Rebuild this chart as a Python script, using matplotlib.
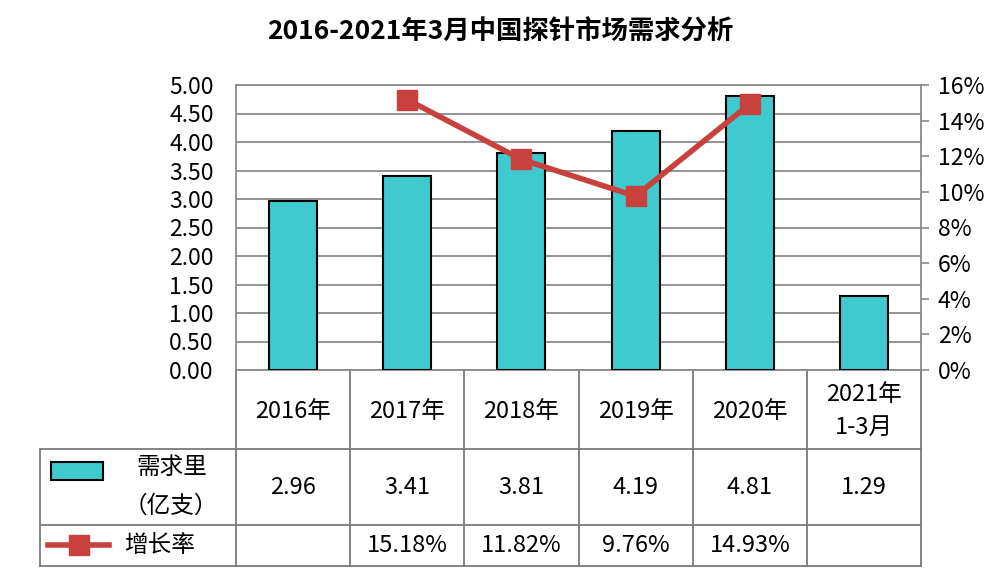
import numpy as np
import matplotlib.pyplot as plt
from matplotlib.ticker import PercentFormatter

plt.rcParams['font.family'] = ['Noto Sans CJK SC', 'DejaVu Sans']

# data
years = ['2016年', '2017年', '2018年', '2019年', '2020年', '2021年\n1-3月']
demand = [2.96, 3.41, 3.81, 4.19, 4.81, 1.29]
growth = [np.nan, 15.18, 11.82, 9.76, 14.93, np.nan]
demand_txt = ['2.96', '3.41', '3.81', '4.19', '4.81', '1.29']
growth_txt = ['', '15.18%', '11.82%', '9.76%', '14.93%', '']

bar_color = '#3ECACE'
line_color = '#C9413C'
grid_color = '#8a8a8a'

fig = plt.figure(figsize=(10, 5.86), dpi=100)

# overlay in pixel coords for the data table
bg = fig.add_axes([0, 0, 1, 1])
bg.set_xlim(0, 1000)
bg.set_ylim(586, 0)
bg.axis('off')

# main chart
L, R, T, B = 236, 921, 85, 370
ax = fig.add_axes([L / 1000, 1 - B / 586, (R - L) / 1000, (B - T) / 586])
x = np.arange(len(years))
ax.bar(x, demand, width=0.42, color=bar_color, edgecolor='black', linewidth=1.5, zorder=3)
ax.set_xlim(-0.5, len(years) - 0.5)
ax.set_ylim(0, 5)
ax.set_yticks(np.arange(0, 5.01, 0.5))
ax.yaxis.set_major_formatter(lambda v, p: f'{v:.2f}')
ax.set_xticks([])
ax.grid(axis='y', color=grid_color, linewidth=1.3, zorder=0)
ax.tick_params(axis='y', length=0, pad=16, labelsize=16.5)
for s in ax.spines.values():
    s.set_color(grid_color)
    s.set_linewidth(1.3)

ax2 = ax.twinx()
ax2.plot(x, np.array(growth) / 100, color=line_color, linewidth=4, marker='s',
         markersize=15, markerfacecolor=line_color, markeredgecolor=line_color, zorder=4)
ax2.set_ylim(0, 0.16)
ax2.set_yticks(np.arange(0, 0.161, 0.02))
ax2.yaxis.set_major_formatter(PercentFormatter(1.0, decimals=0))
ax2.tick_params(axis='y', length=6, width=1.2, color=grid_color, pad=6, labelsize=16.5)
for s in ax2.spines.values():
    s.set_visible(False)

fig.text(0.5, 1 - 32 / 586, '2016-2021年3月中国探针市场需求分析', ha='center', va='center',
         fontsize=19, fontweight='bold')

# table grid
cw = (R - L) / len(years)
rows = [B, 449, 525, 566]
lc = '#7a7a7a'
lw = 1.3
for y in rows[1:]:
    bg.plot([40, R], [y, y], color=lc, lw=lw)
bg.plot([40, 40], [449, 566], color=lc, lw=lw)
for i in range(len(years) + 1):
    bg.plot([L + i * cw, L + i * cw], [B, 566], color=lc, lw=lw)

fs = 17
for i in range(len(years)):
    cx = L + (i + 0.5) * cw
    bg.text(cx, 411, years[i], ha='center', va='center', fontsize=fs, linespacing=1.55)
    bg.text(cx, 487, demand_txt[i], ha='center', va='center', fontsize=fs)
    bg.text(cx, 545, growth_txt[i], ha='center', va='center', fontsize=fs)

# legend keys in row headers
bg.add_patch(plt.Rectangle((51, 462), 52, 18, facecolor=bar_color, edgecolor='black', lw=1.5))
bg.text(172, 467, '需求里', ha='center', va='center', fontsize=fs)
bg.text(171, 506, '（亿支）', ha='center', va='center', fontsize=fs)
bg.plot([48, 109], [545, 545], color=line_color, lw=4)
bg.plot([79], [545], marker='s', markersize=15, color=line_color)
bg.text(159, 545, '增长率', ha='center', va='center', fontsize=fs)

fig.savefig('out.png', dpi=100)
